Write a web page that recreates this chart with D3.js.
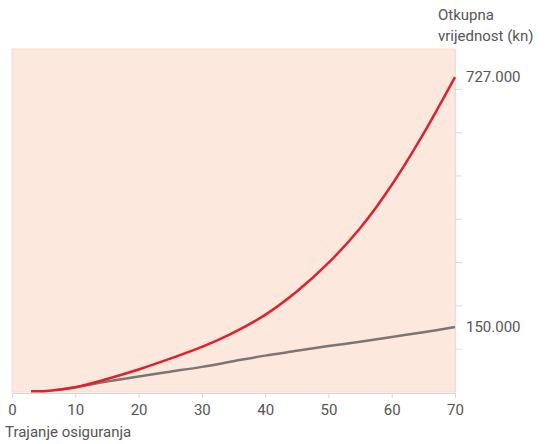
<!DOCTYPE html>
<html>
<head>
<meta charset="utf-8">
<script src="https://cdn.jsdelivr.net/npm/d3@7"></script>
<style>
  body { margin: 0; background: #fff; }
  text { font-family: Roboto, "DejaVu Sans", sans-serif; fill: #555; }
</style>
</head>
<body>
<svg id="chart" width="548" height="444"></svg>
<script>
// Data (years of insurance -> surrender value in kn)
const redYears  = [3, 5, 7, 10, 15, 20, 25, 30, 35, 40, 45, 50, 55, 60, 65, 70];
const redValues = [1500, 1800, 4500, 11000, 30000, 52000, 77000, 104000, 137000, 178000, 232000, 298000, 378000, 478000, 596000, 727000];
const grayYears  = [7, 10, 15, 20, 25, 30, 35, 40, 45, 50, 55, 60, 65, 70];
const grayValues = [4500, 11000, 24000, 36000, 47000, 58000, 71000, 84000, 95000, 106000, 116000, 127000, 138000, 150000];
const xTicks = [0, 10, 20, 30, 40, 50, 60, 70];
const yTicks = [100000, 200000, 300000, 400000, 500000, 600000, 700000];
const endLabels = [{ v: 727000, t: "727.000" }, { v: 150000, t: "150.000" }];
const xTitle = "Trajanje osiguranja";
const yTitle = ["Otkupna", "vrijednost (kn)"];

const svg = d3.select("#chart");
const x = d3.scaleLinear().domain([0, 70]).range([12, 455]);
const y = d3.scaleLinear().domain([0, 792000]).range([392, 49]);

// plot background
svg.append("rect")
  .attr("x", x(0)).attr("y", y(792000))
  .attr("width", x(70) - x(0)).attr("height", y(0) - y(792000))
  .attr("fill", "#fde8dd").attr("stroke", "#f7dbcf").attr("stroke-width", 1);

// x axis
const xAxis = svg.append("g")
  .attr("transform", `translate(0,${y(0) + 1})`)
  .call(d3.axisBottom(x).tickValues(xTicks).tickSize(5).tickPadding(6).tickSizeOuter(0));
xAxis.select(".domain").attr("stroke", "#d8d8d8");
xAxis.selectAll(".tick line").attr("stroke", "#d8d8d8");
xAxis.selectAll(".tick text").attr("font-size", 15).attr("fill", "#555")
  .attr("font-family", "Roboto, sans-serif");

// right axis
const yAxis = svg.append("g")
  .attr("transform", `translate(${x(70)},0)`)
  .call(d3.axisRight(y).tickValues(yTicks).tickSize(7).tickFormat("").tickSizeOuter(0));
yAxis.select(".domain").attr("stroke", "#e2e2e2");
yAxis.selectAll(".tick line").attr("stroke", "#d8d8d8");

// lines
const line = d3.line().x(d => x(d[0])).y(d => y(d[1])).curve(d3.curveCatmullRom);
svg.append("path")
  .datum(grayYears.map((yr, i) => [yr, grayValues[i]]))
  .attr("d", line).attr("fill", "none").attr("stroke", "#7b7576").attr("stroke-width", 2.5);
svg.append("path")
  .datum(redYears.map((yr, i) => [yr, redValues[i]]))
  .attr("d", line).attr("fill", "none").attr("stroke", "#e0212b").attr("stroke-width", 2.5);

// end labels
svg.selectAll(".endlabel").data(endLabels).enter().append("text")
  .attr("x", 466).attr("y", d => y(d.v)).attr("dy", "0.35em")
  .attr("font-size", 15).text(d => d.t);

// titles
svg.append("text").attr("x", 5).attr("y", 437).attr("font-size", 15).text(xTitle);
svg.selectAll(".ytitle").data(yTitle).enter().append("text")
  .attr("x", 438).attr("y", (d, i) => 20 + i * 21).attr("font-size", 15).text(d => d);
</script>
</body>
</html>
